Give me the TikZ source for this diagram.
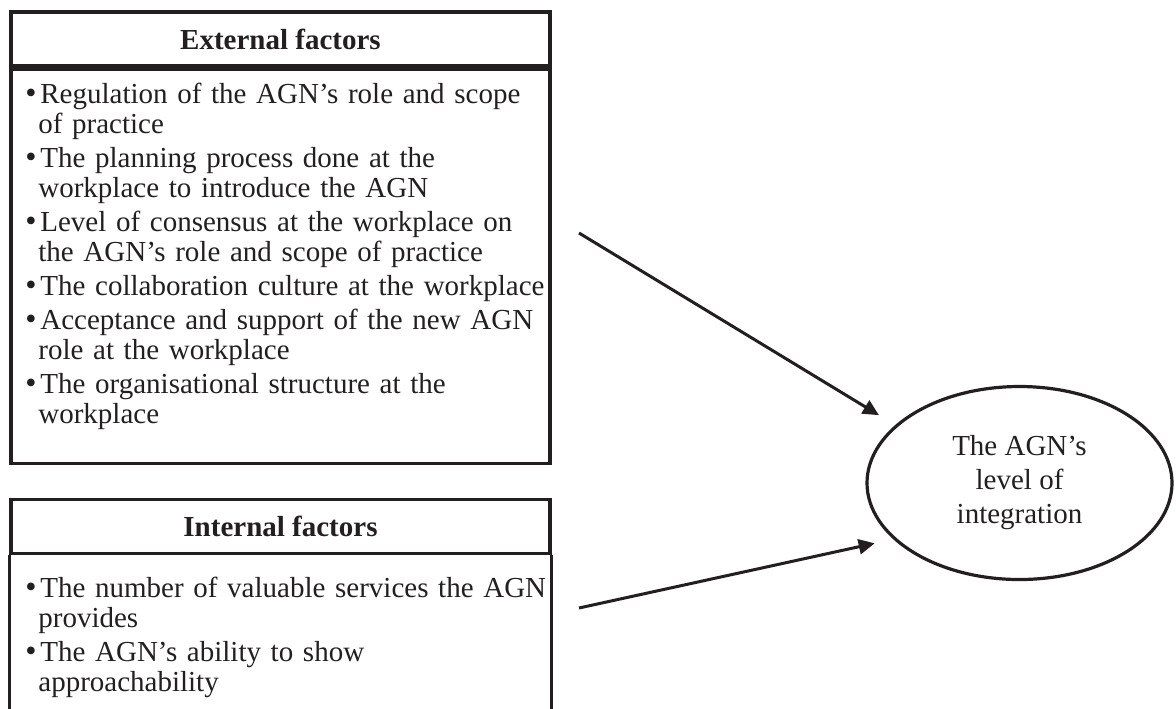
\documentclass[tikz,border=0pt]{standalone}
\usepackage{fontspec}
\setmainfont{Liberation Serif}
\usetikzlibrary{arrows.meta,shapes.geometric}
\definecolor{ink}{HTML}{231F20}
\newcommand{\bulletmark}{{\fontsize{16}{16}\selectfont\textbullet}}
\newcommand{\fitem}[1]{\noindent\hangindent=6.5pt\hangafter=1\makebox[7.5pt][l]{\bulletmark}#1\par\vspace{2pt}}
\tikzset{
  frame/.style={draw=ink, line width=1.6pt, minimum width=269.5pt, inner sep=0pt},
  headbox/.style={frame, minimum height=27pt, font=\fontsize{14.5}{15}\selectfont\bfseries},
  bodybox/.style={frame, anchor=north},
  factors/.style={anchor=base west, inner sep=0pt, text width=262pt, align=left, text=ink, font=\fontsize{14.5}{15}\selectfont},
  outcome/.style={draw=ink, ellipse, line width=1.6pt, minimum width=152.5pt, minimum height=96.5pt, inner sep=0pt, align=center, text=ink, font=\fontsize{14.5}{17}\selectfont},
  arr/.style={draw=ink, line width=1.5pt, -{Triangle[length=8pt,width=7.5pt]}, shorten >=9.5pt}
}
\begin{document}
\begin{tikzpicture}[x=0.5pt,y=-0.5pt]
\useasboundingbox (0,0) rectangle (1176,708);
\node[headbox, text=ink] (exthead) at (280.5,39) {External factors};
\node[bodybox, minimum height=197pt] (extbody) at (exthead.south) {};
\node[factors] (extlist) at (25,103) {%
\fitem{Regulation of the AGN’s role and scope\newline of practice}
\fitem{The planning process done at the\newline workplace to introduce the AGN}
\fitem{Level of consensus at the workplace on\newline the AGN’s role and scope of practice}
\fitem{The collaboration culture at the workplace}
\fitem{Acceptance and support of the new AGN\newline role at the workplace}
\fitem{The organisational structure at the\newline workplace}};
\node[headbox, text=ink] (inthead) at (280.5,526.5) {Internal factors};
\node[bodybox, draw=none, minimum height=80pt] (intbody) at (inthead.south) {};
\draw[ink, line width=1.6pt] (intbody.north west) -- (intbody.south west);
\draw[ink, line width=1.6pt] (intbody.north east) -- (intbody.south east);
\node[factors] (intlist) at (25,597) {%
\fitem{The number of valuable services the AGN\newline provides}
\fitem{The AGN’s ability to show\newline approachability}};
\node[outcome] (agn) at (1019.5,483) {The AGN’s\\level of\\integration};
\coordinate (extout) at (579,233);
\coordinate (intout) at (579,608);
\draw[arr] (extout) -- (agn.155);
\draw[arr] (intout) -- (agn.204);
\end{tikzpicture}
\end{document}
